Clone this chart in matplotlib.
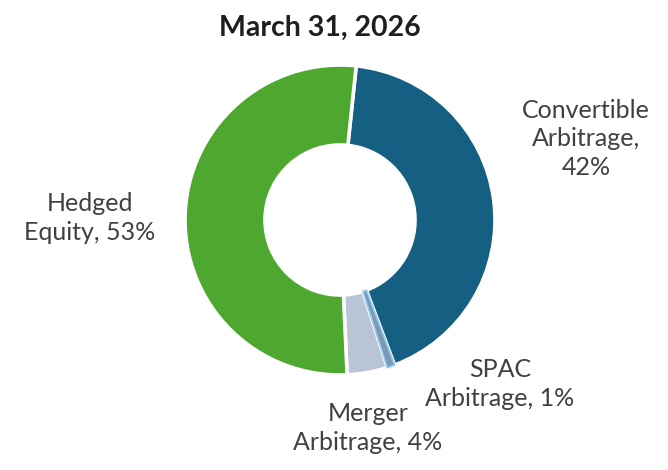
import matplotlib
matplotlib.use("Agg")
import matplotlib.pyplot as plt

title = "March 31, 2026"
categories = ["Convertible Arbitrage", "SPAC Arbitrage", "Merger Arbitrage", "Hedged Equity"]
shares = [42.6, 0.8, 4.2, 52.4]
labels = ["Convertible\nArbitrage,\n42%", "SPAC\nArbitrage, 1%", "Merger\nArbitrage, 4%", "Hedged\nEquity, 53%"]
colors = ["#156082", "#7f97b3", "#b9c4d5", "#4ea72e"]

plt.rcParams['font.family'] = ['Lato', 'DejaVu Sans']

W, H = 668, 470
fig = plt.figure(figsize=(W / 100, H / 100), dpi=100)
ax = fig.add_axes([0, 0, 1, 1])

cx, cy, R, r_in = 340, H - 220, 155, 75
wedges, _ = ax.pie(shares, colors=colors, startangle=84, counterclock=False,
                   center=(cx, cy), radius=R, frame=True,
                   wedgeprops=dict(width=R - r_in, edgecolor='white', linewidth=2.6))
ax.set_xlim(0, W)
ax.set_ylim(0, H)
ax.set_aspect('equal')
ax.axis('off')
wedges[1].set_edgecolor('#8ecdf0')
wedges[1].set_linewidth(1.2)
wedges[1].set_zorder(3)

txt = '#404040'
fs = 18
ax.text(320, H - 28, title, ha='center', va='center', fontsize=20.5, fontweight='bold', color='#1f1f1f')
pos = [(586, H - 139), (500, H - 384), (368, H - 428), (90, H - 218)]
for lab, (x, y) in zip(labels, pos):
    ax.text(x, y, lab, ha='center', va='center', fontsize=fs, color=txt, linespacing=1.3)

fig.savefig("out.png", dpi=100)
